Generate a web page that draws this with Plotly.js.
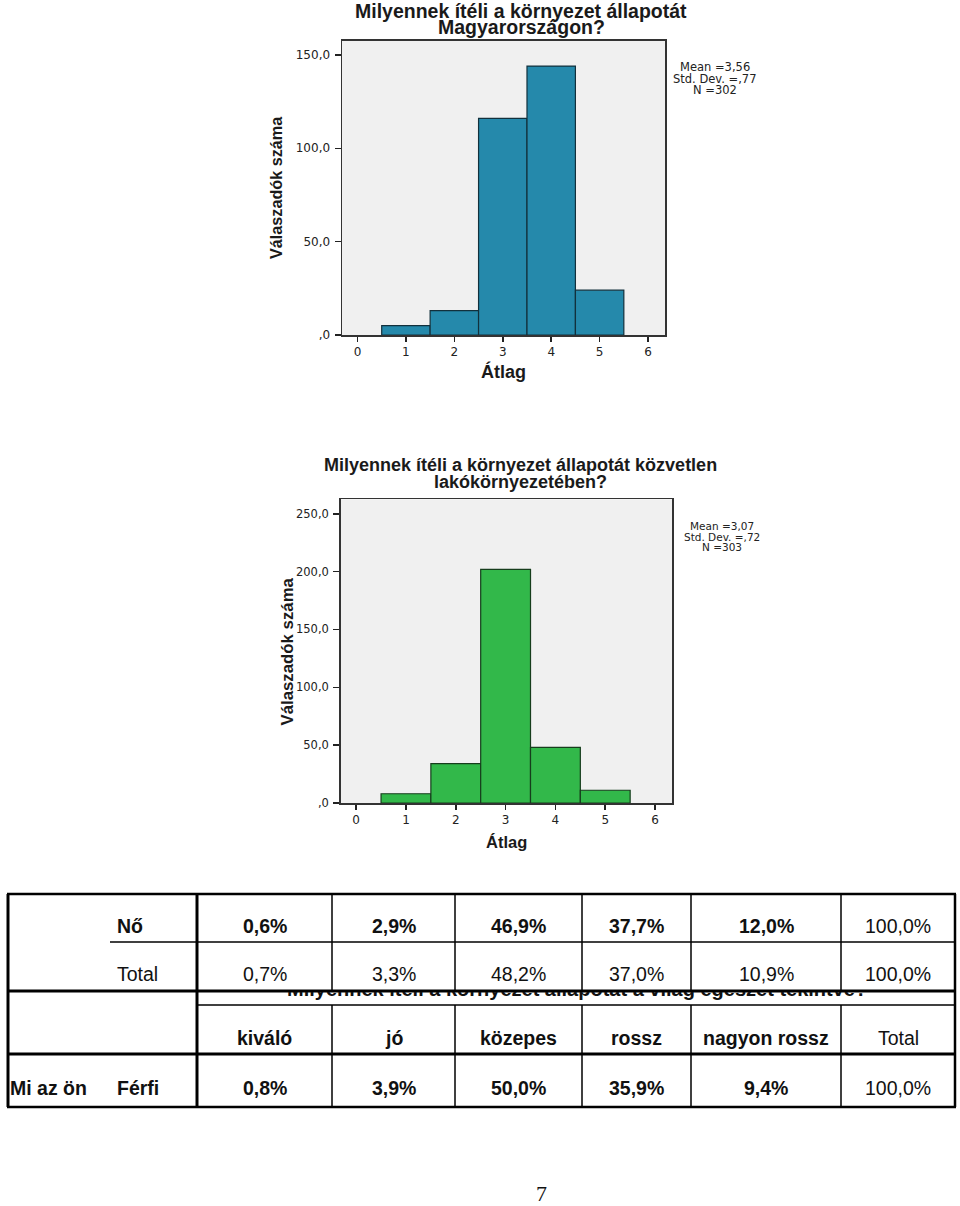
<!DOCTYPE html>
<html><head><meta charset="utf-8">
<script src="https://cdn.plot.ly/plotly-3.0.1.min.js"></script>
<style>html,body{margin:0;padding:0;background:#fff;}#chart{width:960px;height:1206px;}</style>
</head><body><div id="chart"></div>
<script>
// ---- data ----
const binCenters = [1, 2, 3, 4, 5];
const countsHungary = [5, 13, 116, 144, 24];
const countsLocal = [8, 34, 202, 48, 11];
const xTickVals = [0, 1, 2, 3, 4, 5, 6];
const xTickText = ['0', '1', '2', '3', '4', '5', '6'];
const yTickVals1 = [0, 50, 100, 150];
const yTickText1 = [',0', '50,0', '100,0', '150,0'];
const yTickVals2 = [0, 50, 100, 150, 200, 250];
const yTickText2 = [',0', '50,0', '100,0', '150,0', '200,0', '250,0'];
const title1Lines = ['Milyennek ítéli a környezet állapotát', 'Magyarországon?'];
const title2Lines = ['Milyennek ítéli a környezet állapotát közvetlen', 'lakókörnyezetében?'];
const yTitle = 'Válaszadók száma';
const xTitle = 'Átlag';
const tableTitle = 'Milyennek ítéli a környezet állapotát a világ egészét tekintve?';
const tableCategories = ['kiváló', 'jó', 'közepes', 'rossz', 'nagyon rossz', 'Total'];
const rowGroupLabel = 'Mi az ön';
const rowLabels = ['Nő', 'Total', 'Férfi'];
const rowNo = [0.6, 2.9, 46.9, 37.7, 12.0, 100.0];
const rowTotal = [0.7, 3.3, 48.2, 37.0, 10.9, 100.0];
const rowFerfi = [0.8, 3.9, 50.0, 35.9, 9.4, 100.0];
const pageNumber = '7';

// ---- helpers ----
const W = 960, H = 1206;
const px = x => x / W;
const py = y => 1 - y / H;
const SANS = 'Liberation Sans, Arial, sans-serif';
const DEJ = 'DejaVu Sans, Verdana, sans-serif';
const SERIF = 'Liberation Serif, Times New Roman, serif';

function stats(counts) {
  const N = counts.reduce((a, b) => a + b, 0);
  const mean = counts.reduce((a, c, i) => a + c * binCenters[i], 0) / N;
  const v = counts.reduce((a, c, i) => a + c * Math.pow(binCenters[i] - mean, 2), 0) / (N - 1);
  const f = n => n.toFixed(2).replace('.', ',').replace(/^0,/, ',');
  return ['Mean =' + f(mean), 'Std. Dev. =' + f(Math.sqrt(v)), 'N =' + N];
}
const pct = v => v.toFixed(1).replace('.', ',') + '%';

const annotations = [];
function ann(text, x, y, o) {
  o = o || {};
  const a = {
    text: text, x: px(x), y: py(y), xref: 'paper', yref: 'paper', showarrow: false,
    xanchor: o.xanchor || 'center', yanchor: o.yanchor || 'middle',
    font: {family: o.family || SANS, size: o.size || 12, color: o.color || '#111', weight: o.bold ? 700 : 400},
    borderpad: 0
  };
  if (o.textangle !== undefined) a.textangle = o.textangle;
  if (o.height) { a.height = o.height; a.valign = o.valign || 'bottom'; }
  annotations.push(a);
}

// table hidden title (partly covered in original)
ann(tableTitle, 576.5, 1001, {size: 20, bold: true, yanchor: 'bottom', height: 8, valign: 'bottom'});

// chart titles
ann(title1Lines[0], 521, 11.5, {size: 19.5, bold: true, color: '#1a1a1a'});
ann(title1Lines[1], 521, 27, {size: 19.5, bold: true, color: '#1a1a1a'});
ann(title2Lines[0], 520, 465, {size: 18, bold: true, color: '#1a1a1a'});
ann(title2Lines[1], 520, 481.5, {size: 18, bold: true, color: '#1a1a1a'});
// axis titles
ann(yTitle, 276, 188, {size: 16.2, bold: true, textangle: -90, color: '#1a1a1a'});
ann(yTitle, 287, 651.5, {size: 16.8, bold: true, textangle: -90, color: '#1a1a1a'});
ann(xTitle, 503.5, 372, {size: 18, bold: true, color: '#1a1a1a'});
ann(xTitle, 506.5, 842, {size: 16.5, bold: true, color: '#1a1a1a'});
// stats boxes
const s1 = stats(countsHungary), s2 = stats(countsLocal);
[67, 78.5, 89.5].forEach((y, i) => ann(s1[i], 715, y, {size: 11.5, family: DEJ, color: '#222'}));
[526, 536.5, 547].forEach((y, i) => ann(s2[i], 722, y, {size: 10.5, family: DEJ, color: '#222'}));

// table
const colEdges = [197, 332, 455, 582, 691, 841, 955];
const colCenters = colEdges.slice(0, -1).map((e, i) => (e + colEdges[i + 1]) / 2);
const TS = 19.5;
ann(rowLabels[0], 116, 925.5, {size: TS, bold: true, xanchor: 'left'});
ann(rowLabels[1], 116, 974, {size: TS, xanchor: 'left'});
ann(rowGroupLabel, 9, 1087.5, {size: TS, bold: true, xanchor: 'left'});
ann(rowLabels[2], 116, 1087.5, {size: TS, bold: true, xanchor: 'left'});
colCenters.forEach((cx, i) => {
  const last = i === colCenters.length - 1;
  ann(pct(rowNo[i]), cx, 925.5, {size: TS, bold: !last});
  ann(pct(rowTotal[i]), cx, 974, {size: TS});
  ann(tableCategories[i], cx, 1038, {size: TS, bold: !last});
  ann(pct(rowFerfi[i]), cx, 1088, {size: TS, bold: !last});
});
ann(pageNumber, 541, 1193, {size: 22, family: SERIF});

const shapes = [];
function ln(x0, y0, x1, y1, w) {
  shapes.push({type: 'line', xref: 'paper', yref: 'paper', x0: px(x0), y0: py(y0), x1: px(x1), y1: py(y1),
    line: {color: '#000', width: w}});
}
ln(7, 894, 956, 894, 2.5);
ln(110, 942, 955, 942, 1.5);
ln(7, 991, 956, 991, 3);
ln(197, 1005, 955, 1005, 1.5);
ln(7, 1054, 956, 1054, 3);
ln(7, 1107, 956, 1107, 2.5);
ln(8, 894, 8, 1107, 3);
ln(197, 894, 197, 1107, 3);
ln(955, 894, 955, 1107, 2.5);
[332, 455, 582, 691, 841].forEach(x => { ln(x, 894, x, 991, 1.5); ln(x, 1005, x, 1107, 1.5); });

// ---- axes ----
function xAxis(domain, range, anchor) {
  return {domain: domain, range: range, anchor: anchor, tickvals: xTickVals, ticktext: xTickText,
    ticks: 'outside', ticklen: 5, tickwidth: 1.5, tickcolor: '#222', showline: true, mirror: true,
    linecolor: '#333', linewidth: 1.5, showgrid: false, zeroline: false, fixedrange: true,
    tickfont: {family: DEJ, size: 12, color: '#222'}};
}
function yAxis(domain, range, anchor, vals, text, fs) {
  return {domain: domain, range: range, anchor: anchor, tickvals: vals, ticktext: text,
    ticks: 'outside', ticklen: 6, tickwidth: 1.5, tickcolor: '#222', showline: true, mirror: true,
    linecolor: '#333', linewidth: 1.5, showgrid: false, zeroline: false, fixedrange: true,
    ticklabelstandoff: 2, tickfont: {family: DEJ, size: fs, color: '#222'}};
}

const data = [
  {type: 'bar', x: binCenters, y: countsHungary, width: 1, xaxis: 'x', yaxis: 'y',
   marker: {color: '#2589ab', line: {color: '#12303c', width: 1.2}}, hoverinfo: 'skip'},
  {type: 'bar', x: binCenters, y: countsLocal, width: 1, xaxis: 'x2', yaxis: 'y2',
   marker: {color: '#32b84a', line: {color: '#163d1c', width: 1.2}}, hoverinfo: 'skip'}
];

const layout = {
  width: W, height: H, margin: {l: 0, r: 0, t: 0, b: 0}, paper_bgcolor: '#fff', plot_bgcolor: '#f0f0f0',
  showlegend: false,
  xaxis: xAxis([px(342), px(665)], [-0.32, 6.35], 'y'),
  yaxis: yAxis([py(335), py(40.7)], [0, 157.6], 'x', yTickVals1, yTickText1, 12),
  xaxis2: xAxis([px(340.7), px(672)], [-0.31, 6.34], 'y2'),
  yaxis2: yAxis([py(803), py(499.3)], [0, 262.5], 'x2', yTickVals2, yTickText2, 11.5),
  annotations: annotations, shapes: shapes
};
Plotly.newPlot('chart', data, layout, {displayModeBar: false, staticPlot: true});
</script></body></html>
